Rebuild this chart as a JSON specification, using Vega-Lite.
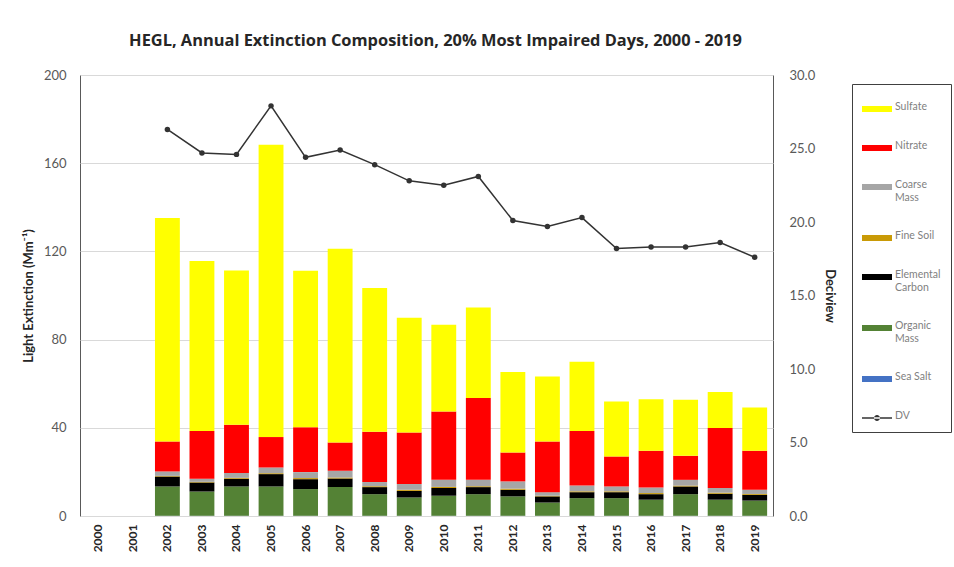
{
  "$schema": "https://vega.github.io/schema/vega-lite/v6.json",
  "width": 693,
  "height": 441,
  "autosize": {"type": "none"},
  "padding": {"left": 80, "top": 75, "right": 181, "bottom": 51},
  "background": "white",
  "title": {
    "text": "HEGL, Annual Extinction Composition, 20% Most Impaired Days, 2000 - 2019",
    "font": "Open Sans",
    "fontSize": 16.4,
    "fontWeight": "bold",
    "color": "#262626",
    "anchor": "middle",
    "dx": 9,
    "offset": 20
  },
  "config": {
    "font": "Lato",
    "view": {"stroke": "#595959", "strokeWidth": 1},
    "axis": {
      "labelFont": "Lato",
      "titleFont": "Lato",
      "ticks": false,
      "domain": false,
      "labelColor": "#595959",
      "titleColor": "#262626",
      "titleFontWeight": "bold",
      "titleFontSize": 13,
      "labelFontSize": 13
    },
    "legend": {
      "labelFont": "Lato"
    }
  },
  "datasets": {
    "extinction": [
      {"year": 2002, "component": "Sea Salt", "value": 0.1},
      {"year": 2002, "component": "Organic Mass", "value": 13.3},
      {"year": 2002, "component": "Elemental Carbon", "value": 4.5},
      {"year": 2002, "component": "Fine Soil", "value": 0.3},
      {"year": 2002, "component": "Coarse Mass", "value": 2.0},
      {"year": 2002, "component": "Nitrate", "value": 13.6},
      {"year": 2002, "component": "Sulfate", "value": 101.3},
      {"year": 2003, "component": "Sea Salt", "value": 0.1},
      {"year": 2003, "component": "Organic Mass", "value": 11.0},
      {"year": 2003, "component": "Elemental Carbon", "value": 4.1},
      {"year": 2003, "component": "Fine Soil", "value": 0.3},
      {"year": 2003, "component": "Coarse Mass", "value": 1.4},
      {"year": 2003, "component": "Nitrate", "value": 21.7},
      {"year": 2003, "component": "Sulfate", "value": 77.1},
      {"year": 2004, "component": "Sea Salt", "value": 0.1},
      {"year": 2004, "component": "Organic Mass", "value": 13.3},
      {"year": 2004, "component": "Elemental Carbon", "value": 3.5},
      {"year": 2004, "component": "Fine Soil", "value": 0.4},
      {"year": 2004, "component": "Coarse Mass", "value": 2.2},
      {"year": 2004, "component": "Nitrate", "value": 21.9},
      {"year": 2004, "component": "Sulfate", "value": 69.9},
      {"year": 2005, "component": "Sea Salt", "value": 0.1},
      {"year": 2005, "component": "Organic Mass", "value": 13.3},
      {"year": 2005, "component": "Elemental Carbon", "value": 5.6},
      {"year": 2005, "component": "Fine Soil", "value": 0.4},
      {"year": 2005, "component": "Coarse Mass", "value": 2.6},
      {"year": 2005, "component": "Nitrate", "value": 13.8},
      {"year": 2005, "component": "Sulfate", "value": 132.6},
      {"year": 2006, "component": "Sea Salt", "value": 0.1},
      {"year": 2006, "component": "Organic Mass", "value": 12.1},
      {"year": 2006, "component": "Elemental Carbon", "value": 4.5},
      {"year": 2006, "component": "Fine Soil", "value": 0.5},
      {"year": 2006, "component": "Coarse Mass", "value": 2.7},
      {"year": 2006, "component": "Nitrate", "value": 20.4},
      {"year": 2006, "component": "Sulfate", "value": 70.9},
      {"year": 2007, "component": "Sea Salt", "value": 0.1},
      {"year": 2007, "component": "Organic Mass", "value": 13.0},
      {"year": 2007, "component": "Elemental Carbon", "value": 3.9},
      {"year": 2007, "component": "Fine Soil", "value": 0.5},
      {"year": 2007, "component": "Coarse Mass", "value": 3.0},
      {"year": 2007, "component": "Nitrate", "value": 12.8},
      {"year": 2007, "component": "Sulfate", "value": 87.9},
      {"year": 2008, "component": "Sea Salt", "value": 0.1},
      {"year": 2008, "component": "Organic Mass", "value": 9.8},
      {"year": 2008, "component": "Elemental Carbon", "value": 3.2},
      {"year": 2008, "component": "Fine Soil", "value": 0.4},
      {"year": 2008, "component": "Coarse Mass", "value": 1.9},
      {"year": 2008, "component": "Nitrate", "value": 22.8},
      {"year": 2008, "component": "Sulfate", "value": 65.2},
      {"year": 2009, "component": "Sea Salt", "value": 0.1},
      {"year": 2009, "component": "Organic Mass", "value": 8.3},
      {"year": 2009, "component": "Elemental Carbon", "value": 3.0},
      {"year": 2009, "component": "Fine Soil", "value": 0.5},
      {"year": 2009, "component": "Coarse Mass", "value": 2.6},
      {"year": 2009, "component": "Nitrate", "value": 23.4},
      {"year": 2009, "component": "Sulfate", "value": 52.0},
      {"year": 2010, "component": "Sea Salt", "value": 0.1},
      {"year": 2010, "component": "Organic Mass", "value": 9.1},
      {"year": 2010, "component": "Elemental Carbon", "value": 3.5},
      {"year": 2010, "component": "Fine Soil", "value": 0.5},
      {"year": 2010, "component": "Coarse Mass", "value": 3.2},
      {"year": 2010, "component": "Nitrate", "value": 31.0},
      {"year": 2010, "component": "Sulfate", "value": 39.3},
      {"year": 2011, "component": "Sea Salt", "value": 0.1},
      {"year": 2011, "component": "Organic Mass", "value": 9.8},
      {"year": 2011, "component": "Elemental Carbon", "value": 3.2},
      {"year": 2011, "component": "Fine Soil", "value": 0.4},
      {"year": 2011, "component": "Coarse Mass", "value": 2.9},
      {"year": 2011, "component": "Nitrate", "value": 37.1},
      {"year": 2011, "component": "Sulfate", "value": 41.1},
      {"year": 2012, "component": "Sea Salt", "value": 0.1},
      {"year": 2012, "component": "Organic Mass", "value": 8.8},
      {"year": 2012, "component": "Elemental Carbon", "value": 3.0},
      {"year": 2012, "component": "Fine Soil", "value": 0.5},
      {"year": 2012, "component": "Coarse Mass", "value": 3.3},
      {"year": 2012, "component": "Nitrate", "value": 13.1},
      {"year": 2012, "component": "Sulfate", "value": 36.5},
      {"year": 2013, "component": "Sea Salt", "value": 0.1},
      {"year": 2013, "component": "Organic Mass", "value": 6.0},
      {"year": 2013, "component": "Elemental Carbon", "value": 2.8},
      {"year": 2013, "component": "Fine Soil", "value": 0.3},
      {"year": 2013, "component": "Coarse Mass", "value": 1.6},
      {"year": 2013, "component": "Nitrate", "value": 23.0},
      {"year": 2013, "component": "Sulfate", "value": 29.5},
      {"year": 2014, "component": "Sea Salt", "value": 0.1},
      {"year": 2014, "component": "Organic Mass", "value": 8.0},
      {"year": 2014, "component": "Elemental Carbon", "value": 2.7},
      {"year": 2014, "component": "Fine Soil", "value": 0.4},
      {"year": 2014, "component": "Coarse Mass", "value": 2.6},
      {"year": 2014, "component": "Nitrate", "value": 24.8},
      {"year": 2014, "component": "Sulfate", "value": 31.3},
      {"year": 2015, "component": "Sea Salt", "value": 0.1},
      {"year": 2015, "component": "Organic Mass", "value": 8.0},
      {"year": 2015, "component": "Elemental Carbon", "value": 2.7},
      {"year": 2015, "component": "Fine Soil", "value": 0.4},
      {"year": 2015, "component": "Coarse Mass", "value": 2.2},
      {"year": 2015, "component": "Nitrate", "value": 13.6},
      {"year": 2015, "component": "Sulfate", "value": 24.9},
      {"year": 2016, "component": "Sea Salt", "value": 0.1},
      {"year": 2016, "component": "Organic Mass", "value": 7.3},
      {"year": 2016, "component": "Elemental Carbon", "value": 2.5},
      {"year": 2016, "component": "Fine Soil", "value": 0.5},
      {"year": 2016, "component": "Coarse Mass", "value": 2.5},
      {"year": 2016, "component": "Nitrate", "value": 16.7},
      {"year": 2016, "component": "Sulfate", "value": 23.4},
      {"year": 2017, "component": "Sea Salt", "value": 0.1},
      {"year": 2017, "component": "Organic Mass", "value": 9.8},
      {"year": 2017, "component": "Elemental Carbon", "value": 3.5},
      {"year": 2017, "component": "Fine Soil", "value": 0.4},
      {"year": 2017, "component": "Coarse Mass", "value": 2.6},
      {"year": 2017, "component": "Nitrate", "value": 10.9},
      {"year": 2017, "component": "Sulfate", "value": 25.4},
      {"year": 2018, "component": "Sea Salt", "value": 0.1},
      {"year": 2018, "component": "Organic Mass", "value": 7.3},
      {"year": 2018, "component": "Elemental Carbon", "value": 2.7},
      {"year": 2018, "component": "Fine Soil", "value": 0.5},
      {"year": 2018, "component": "Coarse Mass", "value": 2.1},
      {"year": 2018, "component": "Nitrate", "value": 27.2},
      {"year": 2018, "component": "Sulfate", "value": 16.3},
      {"year": 2019, "component": "Sea Salt", "value": 0.1},
      {"year": 2019, "component": "Organic Mass", "value": 6.9},
      {"year": 2019, "component": "Elemental Carbon", "value": 2.6},
      {"year": 2019, "component": "Fine Soil", "value": 0.4},
      {"year": 2019, "component": "Coarse Mass", "value": 1.9},
      {"year": 2019, "component": "Nitrate", "value": 17.7},
      {"year": 2019, "component": "Sulfate", "value": 19.6}
    ],
    "deciview": [
      {"year": 2002, "dv": 26.3},
      {"year": 2003, "dv": 24.7},
      {"year": 2004, "dv": 24.6},
      {"year": 2005, "dv": 27.9},
      {"year": 2006, "dv": 24.4},
      {"year": 2007, "dv": 24.9},
      {"year": 2008, "dv": 23.9},
      {"year": 2009, "dv": 22.8},
      {"year": 2010, "dv": 22.5},
      {"year": 2011, "dv": 23.1},
      {"year": 2012, "dv": 20.1},
      {"year": 2013, "dv": 19.7},
      {"year": 2014, "dv": 20.3},
      {"year": 2015, "dv": 18.2},
      {"year": 2016, "dv": 18.3},
      {"year": 2017, "dv": 18.3},
      {"year": 2018, "dv": 18.6},
      {"year": 2019, "dv": 17.6}
    ]
  },
  "layer": [
    {
      "data": {"name": "extinction"},
      "transform": [
        {
          "calculate": "indexof(['Sea Salt', 'Organic Mass', 'Elemental Carbon', 'Fine Soil', 'Coarse Mass', 'Nitrate', 'Sulfate'], datum.component)",
          "as": "stackOrder"
        }
      ],
      "mark": {"type": "bar"},
      "encoding": {
        "x": {
          "field": "year",
          "type": "ordinal",
          "scale": {
            "domain": [2000, 2001, 2002, 2003, 2004, 2005, 2006, 2007, 2008, 2009, 2010, 2011, 2012, 2013, 2014, 2015, 2016, 2017, 2018, 2019],
            "paddingInner": 0.28,
            "paddingOuter": 0.17
          },
          "axis": {
            "title": null,
            "labelAngle": -90,
            "labelFontWeight": "bold",
            "labelFontSize": 12,
            "labelColor": "#262626",
            "labelPadding": 8
          }
        },
        "y": {
          "field": "value",
          "type": "quantitative",
          "stack": "zero",
          "scale": {"domain": [0, 200]},
          "axis": {
            "title": "Light Extinction (Mm⁻¹)",
            "values": [0, 40, 80, 120, 160, 200],
            "grid": true,
            "gridColor": "#d9d9d9",
            "labelPadding": 14,
            "titlePadding": 8
          }
        },
        "color": {
          "field": "component",
          "type": "nominal",
          "scale": {
            "domain": ["Sulfate", "Nitrate", "Coarse Mass", "Fine Soil", "Elemental Carbon", "Organic Mass", "Sea Salt", "DV"],
            "range": ["#FFFF00", "#FF0000", "#A6A6A6", "#C99A06", "#000000", "#548235", "#4472C4", "#333333"]
          },
          "legend": {
            "title": null,
            "orient": "none",
            "legendX": 772,
            "legendY": 9,
            "strokeColor": "#404040",
            "padding": 10,
            "symbolType": "M-1,-0.2H1V0.2H-1Z",
            "symbolSize": 900,
            "symbolStrokeWidth": 0,
            "labelFontSize": 10.5,
            "labelColor": "#7f7f7f",
            "labelLimit": 100,
            "labelOffset": 3,
            "rowPadding": 20,
            "labelBaseline": "top",
            "labelExpr": "datum.label == 'Coarse Mass' ? ['Coarse', 'Mass'] : datum.label == 'Elemental Carbon' ? ['Elemental', 'Carbon'] : datum.label == 'Organic Mass' ? ['Organic', 'Mass'] : datum.label",
            "encode": {
              "symbols": {
                "update": {
                  "shape": {"signal": "datum.value === 'DV' ? 'M-1,-0.045H1V0.045H-1Z M-0.2,0A0.2,0.2 0 1,0 0.2,0A0.2,0.2 0 1,0 -0.2,0Z' : 'M-1,-0.2H1V0.2H-1Z'"},
                  "fill": {"signal": "scale('color', datum.value)"},
                  "stroke": {"value": "transparent"},
                  "opacity": {"value": 1}
                }
              },
              "labels": {
                "update": {
                  "dy": {"value": -7}
                }
              }
            }
          }
        },
        "order": {"field": "stackOrder", "type": "quantitative", "sort": "ascending"}
      }
    },
    {
      "data": {"name": "deciview"},
      "mark": {
        "type": "line",
        "strokeWidth": 1.5,
        "point": {"filled": true, "size": 30}
      },
      "encoding": {
        "x": {"field": "year", "type": "ordinal"},
        "y": {
          "field": "dv",
          "type": "quantitative",
          "scale": {"domain": [0, 30]},
          "axis": {
            "orient": "right",
            "title": "Deciview",
            "values": [0, 5, 10, 15, 20, 25, 30],
            "format": ".1f",
            "grid": false,
            "labelPadding": 16,
            "titlePadding": 8
          }
        },
        "color": {"datum": "DV"}
      }
    }
  ],
  "resolve": {"scale": {"y": "independent"}}
}
